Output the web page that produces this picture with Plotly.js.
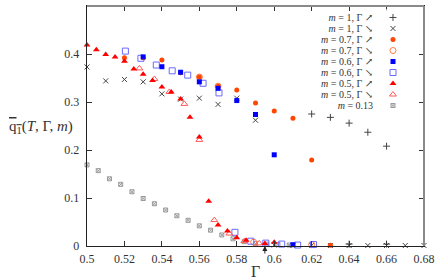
<!DOCTYPE html>
<html><head><meta charset="utf-8">
<script src="https://cdn.plot.ly/plotly-3.0.1.min.js"></script>
<style>html,body{margin:0;padding:0;background:#fff}</style>
</head><body><div id="chart" style="width:436px;height:280px"></div>
<script>
// ---- data (Γ, q1) ----
const m1UpG   = [0.62, 0.63, 0.64, 0.65, 0.66, 0.64, 0.66];
const m1UpQ   = [0.275, 0.268, 0.256, 0.237, 0.208, 0.004, 0.004];
const m1DnG   = [0.50, 0.51, 0.52, 0.53, 0.54, 0.55, 0.56, 0.57, 0.58, 0.59, 0.60, 0.61, 0.62, 0.63, 0.64, 0.65, 0.66, 0.67, 0.68];
const m1DnQ   = [0.373, 0.344, 0.347, 0.342, 0.317, 0.306, 0.308, 0.295, 0.308, 0.262, 0.002, 0.001, 0.001, 0.001, 0.001, 0.001, 0.001, 0.001, 0.001];
const m07UpG  = [0.52, 0.53, 0.54, 0.55, 0.56, 0.57, 0.58, 0.59, 0.60, 0.61, 0.62, 0.63];
const m07UpQ  = [0.392, 0.392, 0.3875, 0.361, 0.352, 0.333, 0.325, 0.298, 0.281, 0.266, 0.179, 0.0015];
const m07DnG  = [0.56, 0.57, 0.589, 0.62];
const m07DnQ  = [0.352, 0.333, 0.008, 0.003];
const m06UpG  = [0.53, 0.54, 0.55, 0.56, 0.57, 0.58, 0.59, 0.60, 0.61];
const m06UpQ  = [0.394, 0.3735, 0.362, 0.342, 0.3285, 0.303, 0.274, 0.190, 0.0027];
const m06DnG  = [0.5205, 0.5288, 0.537, 0.5455, 0.5538, 0.562, 0.5705, 0.579, 0.5875, 0.5955, 0.604, 0.6125, 0.621];
const m06DnQ  = [0.406, 0.391, 0.377, 0.365, 0.356, 0.339, 0.319, 0.0285, 0.010, 0.006, 0.004, 0.002, 0.003];
const m05UpG  = [0.500, 0.505, 0.510, 0.515, 0.520, 0.525, 0.530, 0.535, 0.540, 0.545, 0.550, 0.555, 0.560, 0.565, 0.570, 0.575, 0.580, 0.585, 0.595, 0.600];
const m05UpQ  = [0.419, 0.409, 0.399, 0.394, 0.385, 0.369, 0.358, 0.345, 0.331, 0.321, 0.306, 0.268, 0.227, 0.093, 0.044, 0.031, 0.017, 0.012, 0.005, 0.008];
const m05DnG  = [0.528, 0.536, 0.544, 0.552, 0.560, 0.568, 0.576, 0.584, 0.592];
const m05DnQ  = [0.370, 0.348, 0.321, 0.296, 0.221, 0.054, 0.026, 0.010, 0.0055];
const m013G   = [0.500, 0.506, 0.512, 0.518, 0.524, 0.530, 0.536, 0.542, 0.548, 0.554, 0.560, 0.566, 0.572, 0.578, 0.584, 0.590, 0.596, 0.602, 0.608];
const m013Q   = [0.169, 0.157, 0.140, 0.1285, 0.113, 0.099, 0.088, 0.075, 0.063, 0.0535, 0.042, 0.033, 0.023, 0.015, 0.009, 0.005, 0.004, 0.003, 0.002];

const seriesLabels = [
  "<i>m</i> = 1, Γ ↗", "<i>m</i> = 1, Γ ↘",
  "<i>m</i> = 0.7, Γ ↗", "<i>m</i> = 0.7, Γ ↘",
  "<i>m</i> = 0.6, Γ ↗", "<i>m</i> = 0.6, Γ ↘",
  "<i>m</i> = 0.5, Γ ↗", "<i>m</i> = 0.5, Γ ↘",
  "<i>m</i> = 0.13"
];
const xTickVals = [0.5, 0.52, 0.54, 0.56, 0.58, 0.6, 0.62, 0.64, 0.66, 0.68];
const xTickText = ["0.5", "0.52", "0.54", "0.56", "0.58", "0.6", "0.62", "0.64", "0.66", "0.68"];
const yTickVals = [0, 0.1, 0.2, 0.3, 0.4, 0.5];
const yTickText = ["0", "0.1", "0.2", "0.3", "0.4", "0.5"];
const transitionG = 0.595;

// ---- styles ----
const seriesX = [m1UpG, m1DnG, m07UpG, m07DnG, m06UpG, m06DnG, m05UpG, m05DnG, m013G];
const seriesY = [m1UpQ, m1DnQ, m07UpQ, m07DnQ, m06UpQ, m06DnQ, m05UpQ, m05DnQ, m013Q];
const styles = [
  {symbol: 'cross-thin-open', color: '#444444', size: 5, lw: 1},
  {symbol: 'x-thin-open', color: '#444444', size: 5, lw: 1},
  {symbol: 'circle', color: '#ff4500', size: 5, lw: 0},
  {symbol: 'circle-open', color: '#ff7a40', size: 6, lw: 1},
  {symbol: 'square', color: '#0000ff', size: 5, lw: 0},
  {symbol: 'square-open', color: '#6a6aff', size: 6, lw: 1},
  {symbol: 'triangle-up', color: '#ff0000', size: 6, lw: 0},
  {symbol: 'triangle-up-open', color: '#ff5a5a', size: 6, lw: 1},
  {symbol: 'square-x-open', color: '#999999', size: 4, lw: 1}
];
const drawOrder = [8, 1, 0, 3, 5, 7, 2, 4, 6];

const FONT = "'Liberation Serif', 'DejaVu Serif', serif";
const TXT = '#333333';
const traces = [];
drawOrder.forEach(i => {
  const s = styles[i];
  traces.push({
    type: 'scatter', mode: 'markers', x: seriesX[i], y: seriesY[i],
    cliponaxis: false, hoverinfo: 'skip',
    marker: {symbol: s.symbol, size: s.size, color: s.color, line: {color: s.color, width: s.lw}}
  });
});
// legend key markers (category axis = labels)
seriesLabels.forEach((lab, i) => {
  const s = styles[i];
  traces.push({
    type: 'scatter', mode: 'markers', x: [0.5], y: [lab], xaxis: 'x2', yaxis: 'y2',
    cliponaxis: false, hoverinfo: 'skip',
    marker: {symbol: s.symbol, size: s.size, color: s.color, line: {color: s.color, width: s.lw}}
  });
});

const layout = {
  width: 436, height: 280,
  margin: {l: 87, r: 12, t: 6, b: 34},
  paper_bgcolor: '#fff', plot_bgcolor: '#fff',
  showlegend: false,
  font: {family: FONT, size: 11, color: TXT},
  xaxis: {
    range: [0.5, 0.68], tickmode: 'array', tickvals: xTickVals, ticktext: xTickText,
    showline: true, linecolor: '#222', linewidth: 1.3, mirror: 'ticks',
    ticks: 'inside', ticklen: 5, tickcolor: '#333', tickwidth: 1,
    showgrid: false, zeroline: false, ticklabelstandoff: 1,
    tickfont: {family: FONT, size: 12, color: TXT},
    title: {text: 'Γ', font: {family: FONT, size: 16, color: TXT}, standoff: 2}
  },
  yaxis: {
    range: [0, 0.5], tickmode: 'array', tickvals: yTickVals, ticktext: yTickText,
    showline: true, linecolor: '#222', linewidth: 1.3, mirror: 'ticks',
    ticks: 'inside', ticklen: 5, tickcolor: '#333', tickwidth: 1,
    showgrid: false, zeroline: false, ticklabelstandoff: 4,
    tickfont: {family: FONT, size: 12, color: TXT}
  },
  xaxis2: {domain: [0.888, 0.928], range: [0, 1], anchor: 'y2', visible: false, fixedrange: true},
  yaxis2: {
    domain: [0.551, 0.987], type: 'category', categoryorder: 'array', categoryarray: seriesLabels,
    tickmode: 'array', tickvals: seriesLabels,
    autorange: 'reversed', anchor: 'free', position: 0.849, side: 'left',
    showline: false, ticks: '', showgrid: false, zeroline: false,
    tickfont: {family: FONT, size: 10, color: TXT}
  },
  shapes: [
    {type: 'line', xref: 'paper', yref: 'paper', x0: 0, x1: 1, y0: 1, y1: 1, line: {color: '#8a8a8a', width: 2}},
    {type: 'line', xref: 'paper', yref: 'paper', x0: 1, x1: 1, y0: 0, y1: 1, line: {color: '#8a8a8a', width: 2}}
  ],
  annotations: [
    {xref: 'paper', yref: 'paper', x: -0.137, y: 0.496, xanchor: 'center', yanchor: 'middle', showarrow: false,
     text: "<span style='text-decoration:overline'>q<sub>1</sub></span>(<i>T</i>, Γ, <i>m</i>)",
     font: {family: FONT, size: 15, color: TXT}},
    {xref: 'x', yref: 'y', x: transitionG, y: 0, text: ' ', showarrow: true, ax: 0, ay: 15,
     arrowhead: 2, arrowsize: 1, arrowwidth: 1, arrowcolor: '#222'}
  ]
};
Plotly.newPlot('chart', traces, layout, {staticPlot: true, displayModeBar: false});
</script></body></html>
